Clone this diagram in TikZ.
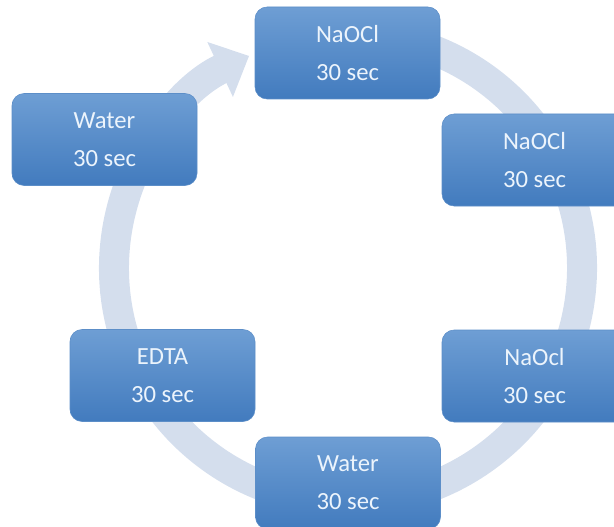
\documentclass[tikz,border=0pt]{standalone}
\usepackage{fontspec}
\setmainfont{Carlito}
\usepackage{tikz}
\usetikzlibrary{arrows.meta}
\usepackage{xcolor}
\definecolor{ring}{RGB}{212,222,237}
\definecolor{boxtop}{RGB}{110,158,212}
\definecolor{boxbot}{RGB}{66,123,190}
\definecolor{boxline}{RGB}{92,142,200}
\definecolor{steptext}{RGB}{236,244,252}

\begin{document}
\begin{tikzpicture}[x=0.75pt, y=0.75pt,
  stepbox/.style={rounded corners=9pt, draw=boxline, top color=boxtop, bottom color=boxbot,
    minimum width=138.75pt, minimum height=69pt, inner sep=0pt, align=center,
    text=steptext, font=\fontsize{18.5}{28.5}\selectfont}]
  \useasboundingbox (0,0) rectangle (614,526);
  \clip (0,0) rectangle (614,526);
  % Cycle
  \coordinate (hub) at (348,258);
  \draw[ring, line width=22.5pt, -{Triangle[length=24pt, width=44pt]}]
    (hub) ++(80:234) arc[start angle=80, end angle=-245, radius=234];
  % Steps
  \node[stepbox] (naoclA) at (347.5,473) {NaOCl\\30 sec};
  \node[stepbox] (naoclB) at (534.5,366) {NaOCl\\30 sec};
  \node[stepbox] (naoclC) at (534.5,150) {NaOcl\\30 sec};
  \node[stepbox] (waterB) at (348,43) {Water\\30 sec};
  \node[stepbox] (edta) at (162.5,150.5) {EDTA\\30 sec};
  \node[stepbox] (waterA) at (104.5,386.5) {Water\\30 sec};
\end{tikzpicture}
\end{document}
